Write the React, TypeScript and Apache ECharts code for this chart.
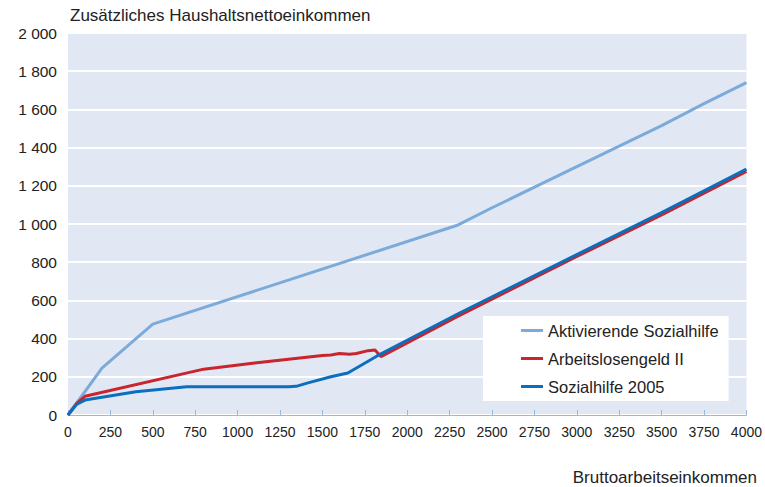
import React, { useEffect, useRef } from "react";
import * as echarts from "echarts";

const aktivierendeX = [0, 200, 500, 2300, 2500, 3000, 3500, 3750, 4000];
const aktivierendeY = [0, 245, 476, 995, 1085, 1300, 1515, 1630, 1740];

const algX = [0, 50, 100, 800, 1100, 1500, 1550, 1600, 1660, 1700, 1770, 1810, 1845, 2300, 3000, 3500, 4000];
const algY = [0, 60, 98, 240, 272, 312, 314, 322, 318, 322, 337, 340, 306, 518, 830, 1048, 1275];

const sozX = [0, 50, 100, 400, 700, 1000, 1300, 1345, 1415, 1550, 1650, 1820, 2300, 3000, 3500, 4000];
const sozY = [0, 55, 78, 122, 148, 148, 148, 150, 168, 200, 220, 308, 530, 840, 1060, 1287];

const seriesNames = ["Aktivierende Sozialhilfe", "Arbeitslosengeld II", "Sozialhilfe 2005"];
const yTitle = "Zusätzliches Haushaltsnettoeinkommen";
const xTitle = "Bruttoarbeitseinkommen";

const zip = (xs: number[], ys: number[]) => xs.map((x, i) => [x, ys[i]]);

export default function App() {
  const ref = useRef<HTMLDivElement>(null);
  useEffect(() => {
    if (!ref.current) return;
    const chart = echarts.init(ref.current, null, { renderer: "svg" });
    const font = "Arial, 'Liberation Sans', sans-serif";
    chart.setOption({
      animation: false,
      textStyle: { fontFamily: font },
      grid: {
        left: 68,
        right: 17,
        top: 33,
        bottom: 72,
        show: true,
        backgroundColor: "#e1e8f4",
        borderWidth: 0,
      },
      graphic: [
        {
          type: "text",
          left: 70,
          top: 7,
          style: { text: yTitle, fontSize: 17, fill: "#222", fontFamily: font },
        },
        {
          type: "text",
          right: 8,
          top: 469,
          style: { text: xTitle, fontSize: 17, fill: "#222", fontFamily: font },
        },
      ],
      legend: {
        orient: "vertical",
        left: 483,
        top: 316,
        backgroundColor: "#ffffff",
        padding: [5, 10, 5, 38],
        itemGap: 9,
        itemWidth: 22,
        itemHeight: 3,
        icon: "rect",
        textStyle: { fontSize: 16.5, color: "#222", fontFamily: font, lineHeight: 19 },
        data: seriesNames,
      },
      xAxis: {
        type: "value",
        min: 0,
        max: 4000,
        interval: 250,
        axisLine: { show: true, lineStyle: { color: "#9ab6dc", width: 1 } },
        axisTick: { show: true, inside: true, length: 5, lineStyle: { color: "#9ab6dc" } },
        axisLabel: { fontSize: 14, color: "#222", margin: 10, fontFamily: font, formatter: (v: number) => String(v) },
        splitLine: { show: false },
      },
      yAxis: {
        type: "value",
        min: 0,
        max: 2000,
        interval: 200,
        axisLine: { show: false },
        axisTick: { show: false },
        axisLabel: {
          fontSize: 15.5,
          color: "#222",
          margin: 11,
          fontFamily: font,
          formatter: (v: number) => (v >= 1000 ? `${Math.floor(v / 1000)} ${String(v % 1000).padStart(3, "0")}` : String(v)),
        },
        splitLine: { show: true, lineStyle: { color: "#ffffff", width: 2 } },
      },
      series: [
        {
          name: seriesNames[0],
          type: "line",
          symbol: "none",
          data: zip(aktivierendeX, aktivierendeY),
          lineStyle: { color: "#7dabd9", width: 3 },
          itemStyle: { color: "#7dabd9" },
          z: 2,
        },
        {
          name: seriesNames[1],
          type: "line",
          symbol: "none",
          data: zip(algX, algY),
          lineStyle: { color: "#c8252c", width: 3 },
          itemStyle: { color: "#c8252c" },
          z: 3,
        },
        {
          name: seriesNames[2],
          type: "line",
          symbol: "none",
          data: zip(sozX, sozY),
          lineStyle: { color: "#0b6fbe", width: 3 },
          itemStyle: { color: "#0b6fbe" },
          z: 4,
        },
      ],
    });
    return () => chart.dispose();
  }, []);
  return <div ref={ref} style={{ width: 765, height: 487, position: "absolute", left: 0, top: 0 }} />;
}
